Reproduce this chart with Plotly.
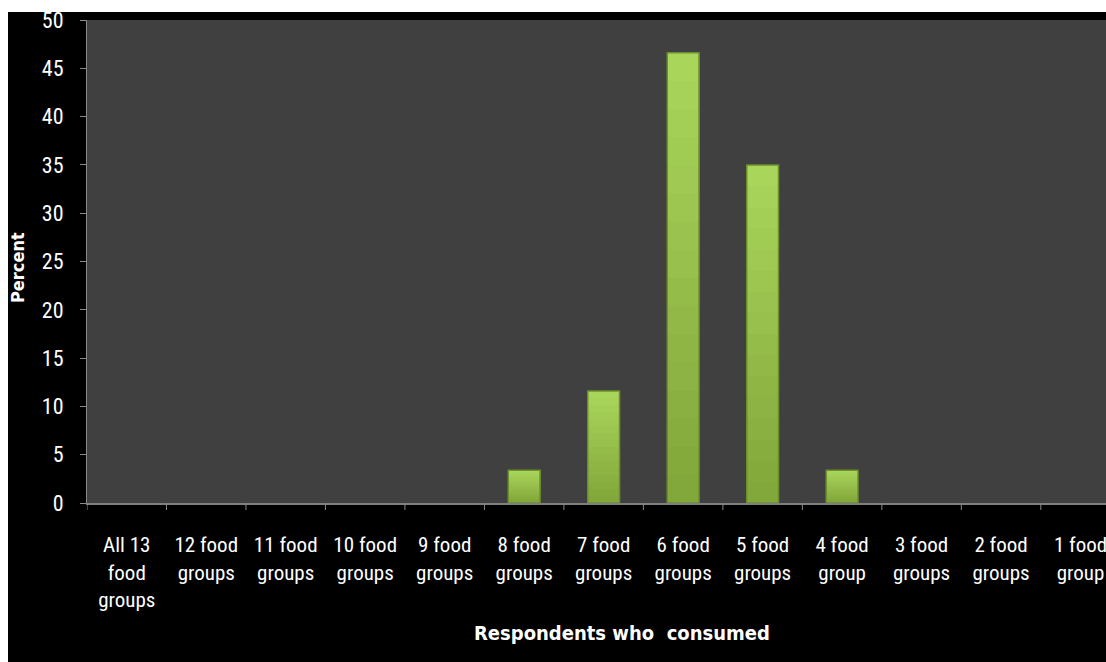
import plotly.graph_objects as go

categories = [
    "All 13<br>food<br>groups", "12 food<br>groups", "11 food<br>groups", "10 food<br>groups",
    "9 food<br>groups", "8 food<br>groups", "7 food<br>groups", "6 food<br>groups",
    "5 food<br>groups", "4 food<br>group", "3 food<br>groups", "2 food<br>groups",
    "1 food<br>group",
]
percent = [0, 0, 0, 0, 0, 3.4, 11.6, 46.6, 35.0, 3.4, 0, 0, 0]
y_ticks = list(range(0, 55, 5))

W, H = 1106, 662
L, R, T, B = 87, 0, 20, 159
pw, ph = W - L - R, H - T - B

def px_x(px):
    return (px - L) / pw

def px_y(py):
    return (H - B - py) / ph

FONT = "Liberation Sans Narrow, Roboto Condensed, Arial Narrow, sans-serif"
BOLD = "DejaVu Sans Condensed, Roboto, sans-serif"

xs = list(range(len(categories)))
fig = go.Figure()

# vertical gradient fill: each layer runs from a higher base up to the bar top,
# painted over the darker layer beneath it so no seams show
N = 16
c_bot = (0x82, 0xA7, 0x3A)
c_top = (0xA9, 0xD5, 0x5B)
for k in range(N):
    t = k / (N - 1)
    col = "rgb({},{},{})".format(*[round(b + (a - b) * t) for a, b in zip(c_top, c_bot)])
    fig.add_trace(go.Bar(
        x=xs,
        y=[v * (N - k) / N for v in percent],
        base=[v * k / N for v in percent],
        width=0.4,
        marker=dict(color=col, line=dict(width=0)),
        hoverinfo="skip",
    ))

# bar outlines
fig.add_trace(go.Bar(
    x=xs,
    y=percent,
    width=0.4,
    marker=dict(
        color="rgba(0,0,0,0)",
        line=dict(color="#6b8f2c", width=[1.5 if v > 0 else 0 for v in percent]),
    ),
    hoverinfo="x+y",
))

fig.update_layout(
    width=W, height=H,
    margin=dict(l=L, r=R, t=T, b=B),
    paper_bgcolor="#000000",
    plot_bgcolor="#404040",
    showlegend=False,
    barmode="overlay",
    font=dict(family=FONT, color="#ffffff", size=20),
    xaxis=dict(
        tickmode="array",
        tickvals=xs,
        ticktext=categories,
        range=[-0.5, 12.32],
        showgrid=False,
        zeroline=False,
        showline=True, linecolor="#7f7f7f", linewidth=2,
        ticks="outside", ticklen=0,
        tickfont=dict(family=FONT, size=21, color="#ffffff"),
        ticklabelstandoff=22,
        ticklabeloverflow="allow",
    ),
    yaxis=dict(
        range=[0, 50],
        tickvals=y_ticks,
        showgrid=False,
        zeroline=False,
        showline=True, linecolor="#8a8a8a", linewidth=1,
        ticks="outside", ticklen=6, tickcolor="#8a8a8a",
        tickfont=dict(family=FONT, size=22, color="#ffffff"),
        ticklabelstandoff=12,
    ),
)

# category boundary ticks below the axis
for i in range(len(categories)):
    fig.add_shape(type="line", xref="x", yref="paper",
                  x0=i - 0.5, x1=i - 0.5, y0=0, y1=px_y(H - B + 7),
                  line=dict(color="#8a8a8a", width=1))

# white strips at the top and left edges
fig.add_shape(type="rect", xref="paper", yref="paper", layer="above",
              x0=px_x(0), x1=px_x(W), y0=px_y(12), y1=px_y(0),
              fillcolor="#ffffff", line=dict(width=0))
fig.add_shape(type="rect", xref="paper", yref="paper", layer="above",
              x0=px_x(0), x1=px_x(8), y0=px_y(H), y1=px_y(0),
              fillcolor="#ffffff", line=dict(width=0))

fig.add_annotation(text="<b>Respondents who  consumed</b>", xref="paper", yref="paper",
                   x=px_x(622), y=px_y(633), xanchor="center", yanchor="middle",
                   showarrow=False, font=dict(family=BOLD, size=20, color="#ffffff"))
fig.add_annotation(text="<b>Percent</b>", xref="paper", yref="paper",
                   x=px_x(17), y=px_y(268), xanchor="center", yanchor="middle",
                   showarrow=False, textangle=-90,
                   font=dict(family=BOLD, size=18, color="#ffffff"))

fig.write_html("out.html")
